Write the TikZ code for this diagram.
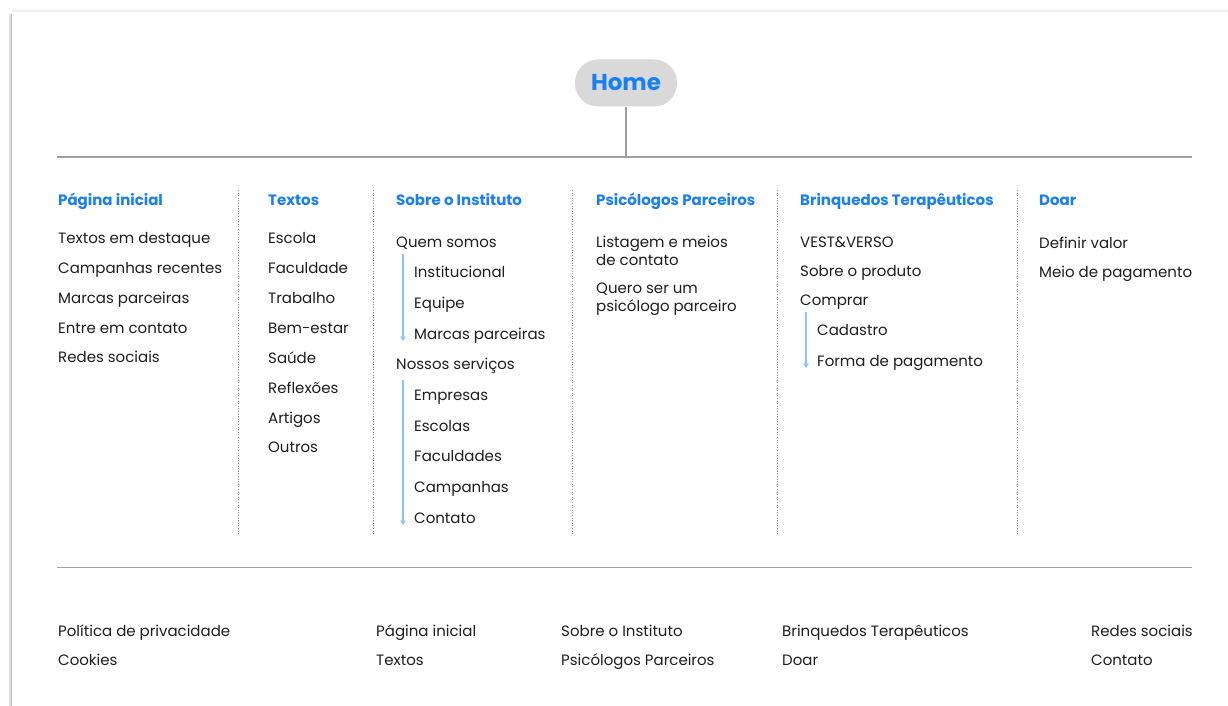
\documentclass[tikz,border=0pt]{standalone}
\usepackage{fontspec}
\setmainfont{Poppins}
\usetikzlibrary{arrows.meta}
\definecolor{hblue}{HTML}{1A7FF2}
\definecolor{txt}{HTML}{1E1E1E}
\definecolor{lgray}{HTML}{A0A0A0}
\definecolor{dgray}{HTML}{8A8A8A}
\definecolor{pill}{HTML}{D9D9D9}
\definecolor{abl}{HTML}{8EC3F7}
\begin{document}
\begin{tikzpicture}[x=1pt,y=-1pt,
  hdr/.style={anchor=mid west,inner sep=0pt,font=\fontsize{15}{18}\selectfont\bfseries,text=hblue},
  itm/.style={anchor=mid west,inner sep=0pt,font=\fontsize{15}{18}\selectfont,text=txt},
  two/.style={itm,align=left,anchor=north west},
  sep/.style={draw=dgray,line width=1pt,dash pattern=on 1pt off 1.6pt},
  sub/.style={draw=abl,line width=1.1pt,-{Straight Barb[length=3.5pt,width=4.5pt]}},
  rule/.style={draw=lgray}]
\useasboundingbox (0,0) rectangle (1228,706);
% card
\fill[white] (0,0) rectangle (1228,706);
\draw[line width=3pt,draw=black!12] (10,14) -- (10,706);
\draw[line width=1pt,draw=black!25] (11,14) -- (11,706);
\draw[line width=2pt,draw=black!6] (12,11) -- (1228,11);
% home
\node[fill=pill,rounded corners=23pt,minimum width=102pt,minimum height=47pt,inner sep=0pt,
  font=\fontsize{23}{26}\selectfont\bfseries,text=hblue] (home) at (626,83) {Home};
\coordinate (hj) at (626,157);
\draw[rule,line width=1.2pt] (home.south) -- (hj);
\coordinate (tl) at (57,157); \coordinate (tr) at (1192,157);
\draw[rule,line width=1.8pt] (tl) -- (tr);
\coordinate (bl) at (57,567); \coordinate (br) at (1192,567);
\draw[rule,line width=1pt] (bl) -- (br);
% separators
\foreach \n/\x in {s1/238,s2/373,s3/572,s4/777,s5/1017}{
  \coordinate (\n a) at (\x,190); \coordinate (\n b) at (\x,535);
  \draw[sep] (\n a) -- (\n b);}
% headers
\node[hdr] (h1) at (58,202.5) {Página inicial};
\node[hdr] (h2) at (268,202.5) {Textos};
\node[hdr] (h3) at (396,202.5) {Sobre o Instituto};
\node[hdr] (h4) at (596,202.5) {Psicólogos Parceiros};
\node[hdr] (h5) at (800,202.5) {Brinquedos Terapêuticos};
\node[hdr] (h6) at (1039,202.5) {Doar};
% col 1
\node[itm] (c1a) at (58,241) {Textos em destaque};
\node[itm] (c1b) at (58,271) {Campanhas recentes};
\node[itm] (c1c) at (58,301) {Marcas parceiras};
\node[itm] (c1d) at (58,331) {Entre em contato};
\node[itm] (c1e) at (58,360) {Redes sociais};
% col 2
\node[itm] (c2a) at (268,241) {Escola};
\node[itm] (c2b) at (268,271) {Faculdade};
\node[itm] (c2c) at (268,301) {Trabalho};
\node[itm] (c2d) at (268,331) {Bem-estar};
\node[itm] (c2e) at (268,361) {Saúde};
\node[itm] (c2f) at (268,391) {Reflexões};
\node[itm] (c2g) at (268,421) {Artigos};
\node[itm] (c2h) at (268,450) {Outros};
% col 3
\node[itm] (c3a) at (396,245) {Quem somos};
\node[itm] (c3b) at (414,275) {Institucional};
\node[itm] (c3c) at (414,306) {Equipe};
\node[itm] (c3d) at (414,337) {Marcas parceiras};
\node[itm] (c3e) at (396,367) {Nossos serviços};
\node[itm] (c3f) at (414,398) {Empresas};
\node[itm] (c3g) at (414,429) {Escolas};
\node[itm] (c3h) at (414,459) {Faculdades};
\node[itm] (c3i) at (414,490) {Campanhas};
\node[itm] (c3j) at (414,521) {Contato};
\coordinate (a1s) at (403,254); \coordinate (a1e) at (403,341);
\draw[sub] (a1s) -- (a1e);
\coordinate (a2s) at (403,380); \coordinate (a2e) at (403,525);
\draw[sub] (a2s) -- (a2e);
% col 4
\node[two] (c4a) at (596,236) {Listagem e meios\\de contato};
\node[two] (c4b) at (596,283) {Quero ser um\\psicólogo parceiro};
% col 5
\node[itm] (c5a) at (800,245) {VEST\&VERSO};
\node[itm] (c5b) at (800,274) {Sobre o produto};
\node[itm] (c5c) at (800,303) {Comprar};
\node[itm] (c5d) at (817,333) {Cadastro};
\node[itm] (c5e) at (817,364) {Forma de pagamento};
\coordinate (a3s) at (806,312); \coordinate (a3e) at (806,368);
\draw[sub] (a3s) -- (a3e);
% col 6
\node[itm] (c6a) at (1039,246) {Definir valor};
\node[itm] (c6b) at (1039,275) {Meio de pagamento};
% footer
\node[itm] (f1) at (58,634) {Política de privacidade};
\node[itm] (f2) at (58,663) {Cookies};
\node[itm] (f3) at (376,634) {Página inicial};
\node[itm] (f4) at (376,663) {Textos};
\node[itm] (f5) at (561,634) {Sobre o Instituto};
\node[itm] (f6) at (561,663) {Psicólogos Parceiros};
\node[itm] (f7) at (782,634) {Brinquedos Terapêuticos};
\node[itm] (f8) at (782,663) {Doar};
\node[itm] (f9) at (1091,634) {Redes sociais};
\node[itm] (f10) at (1091,663) {Contato};
\end{tikzpicture}
\end{document}
